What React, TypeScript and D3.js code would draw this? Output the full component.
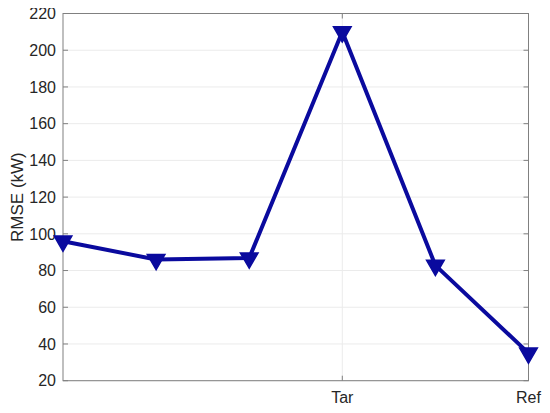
import React, { useEffect, useRef } from "react";
import * as d3 from "d3";

const categories = ["", "", "", "Tar", "", "Ref"];
const rmse = [96, 86, 86.8, 210, 82.8, 35];
const yTicks = [20, 40, 60, 80, 100, 120, 140, 160, 180, 200, 220];

const App = () => {
  const ref = useRef<SVGSVGElement>(null);
  const W = 550;
  const H = 413;
  const margin = { top: 13.5, right: 21.5, bottom: 32.3, left: 63 };
  const width = W - margin.left - margin.right;
  const height = H - margin.top - margin.bottom;

  useEffect(() => {
    const svg = d3.select(ref.current);
    svg.selectAll("*").remove();
    const g = svg.append("g").attr("transform", `translate(${margin.left},${margin.top})`);

    const x = d3.scaleLinear().domain([0, categories.length - 1]).range([0, width]);
    const y = d3.scaleLinear().domain([20, 220]).range([height, 0]);
    const font = "'Liberation Sans', Arial, sans-serif";
    const axisColor = "#808080";
    const textColor = "#262626";
    const fs = 16;

    const labeled = categories.map((c, i) => ({ c, i })).filter((d) => d.c !== "");

    // grid
    g.selectAll(".gy")
      .data(yTicks)
      .join("line")
      .attr("x1", 0)
      .attr("x2", width)
      .attr("y1", (d) => y(d))
      .attr("y2", (d) => y(d))
      .attr("stroke", "#ebebeb")
      .attr("stroke-width", 1);
    g.selectAll(".gx")
      .data(labeled)
      .join("line")
      .attr("x1", (d) => x(d.i))
      .attr("x2", (d) => x(d.i))
      .attr("y1", 0)
      .attr("y2", height)
      .attr("stroke", "#ebebeb")
      .attr("stroke-width", 1);

    // box
    g.append("rect")
      .attr("width", width)
      .attr("height", height)
      .attr("fill", "none")
      .attr("stroke", axisColor)
      .attr("stroke-width", 1);

    // ticks
    const tl = 5;
    yTicks.forEach((t) => {
      g.append("line").attr("x1", 0).attr("x2", tl).attr("y1", y(t)).attr("y2", y(t)).attr("stroke", axisColor);
      g.append("line").attr("x1", width).attr("x2", width - tl).attr("y1", y(t)).attr("y2", y(t)).attr("stroke", axisColor);
      g.append("text")
        .attr("x", -7)
        .attr("y", y(t))
        .attr("dy", "0.36em")
        .attr("text-anchor", "end")
        .attr("font-family", font)
        .attr("font-size", fs)
        .attr("fill", textColor)
        .text(t);
    });
    labeled.forEach((d) => {
      g.append("line").attr("x1", x(d.i)).attr("x2", x(d.i)).attr("y1", height).attr("y2", height - tl).attr("stroke", axisColor);
      g.append("line").attr("x1", x(d.i)).attr("x2", x(d.i)).attr("y1", 0).attr("y2", tl).attr("stroke", axisColor);
      g.append("text")
        .attr("x", x(d.i))
        .attr("y", height + 22.6)
        .attr("text-anchor", "middle")
        .attr("font-family", font)
        .attr("font-size", fs)
        .attr("fill", textColor)
        .text(d.c);
    });

    // y label
    g.append("text")
      .attr("transform", `translate(${-40},${height / 2}) rotate(-90)`)
      .attr("text-anchor", "middle")
      .attr("font-family", font)
      .attr("font-size", 17)
      .attr("fill", textColor)
      .text("RMSE (kW)");

    const color = "#0a0a9e";
    const line = d3
      .line<number>()
      .x((_, i) => x(i))
      .y((d) => y(d));
    g.append("path")
      .datum(rmse)
      .attr("d", line)
      .attr("fill", "none")
      .attr("stroke", color)
      .attr("stroke-width", 4)
      .attr("stroke-linejoin", "round");

    const tri = d3.symbol().type(d3.symbolTriangle).size(135);
    g.selectAll(".mk")
      .data(rmse)
      .join("path")
      .attr("d", tri)
      .attr("transform", (d, i) => `translate(${x(i)},${y(d)}) rotate(180)`)
      .attr("fill", color)
      .attr("stroke", color)
      .attr("stroke-width", 1.5);
  }, []);

  return (
    <div style={{ margin: "-8px" }}>
      <svg ref={ref} width={W} height={H} style={{ display: "block", background: "#fff" }} />
    </div>
  );
};

export default App;
